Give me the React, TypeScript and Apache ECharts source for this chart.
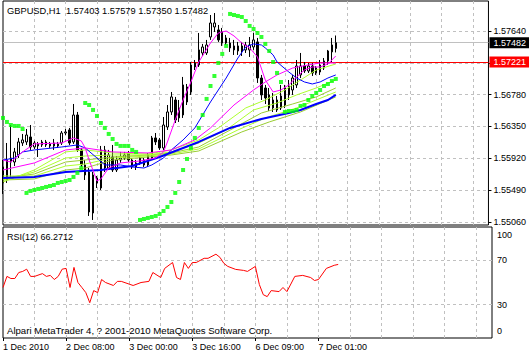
import React, { useEffect, useRef } from "react";
import * as echarts from "echarts";

const SYMBOL = "GBPUSD,H1";
const Y_MIN = 1.55019;
const Y_MAX = 1.58045;
const SLOTS = 125;
const RED_LINE = 1.57221;
const FONT = '"Liberation Sans", Arial, sans-serif';

const xLabels = ["1 Dec 2010", "2 Dec 08:00", "3 Dec 00:00", "3 Dec 16:00", "6 Dec 09:00", "7 Dec 01:00"];
const priceTicks = [1.5506, 1.5549, 1.5592, 1.5635, 1.5678, 1.5721, 1.5764];
const rsiTicks = [0, 30, 70, 100];
const rsiLevels = [30, 70];

const open = [
  1.55803, 1.55627, 1.55924, 1.5587, 1.55965, 1.56127, 1.56141, 1.56208, 1.56073, 1.56114,
  1.561, 1.56141, 1.56114, 1.56127, 1.56087, 1.56127, 1.56262, 1.56303, 1.56141, 1.56505,
  1.56033, 1.5583, 1.55735, 1.55181, 1.55654, 1.55519, 1.56033, 1.55789, 1.55938, 1.55762,
  1.55897, 1.55924, 1.55992, 1.55803, 1.55803, 1.55924, 1.55897, 1.5583, 1.55924, 1.56195,
  1.56168, 1.5606, 1.56343, 1.56546, 1.56708, 1.56465, 1.56505, 1.56884, 1.56816, 1.57208,
  1.57181, 1.57343, 1.57343, 1.57559, 1.57694, 1.57654, 1.57627, 1.57478, 1.57478, 1.57438,
  1.5737, 1.57438, 1.57384, 1.57384, 1.57424, 1.57492, 1.57005, 1.5687, 1.566, 1.566,
  1.56708, 1.566, 1.5664, 1.56776, 1.56843, 1.56911, 1.57046, 1.57167, 1.571, 1.57167,
  1.57073, 1.57086, 1.5714, 1.57235, 1.57357, 1.57403,
];
const close = [
  1.55587, 1.55897, 1.5587, 1.56006, 1.56141, 1.56168, 1.56235, 1.56073, 1.56127, 1.56087,
  1.56141, 1.561, 1.56087, 1.56087, 1.56114, 1.56262, 1.56276, 1.56127, 1.56505, 1.56033,
  1.5583, 1.55695, 1.55195, 1.55695, 1.55587, 1.56033, 1.55789, 1.55965, 1.55762, 1.55897,
  1.55924, 1.55965, 1.55897, 1.55897, 1.55857, 1.55857, 1.5583, 1.55965, 1.56195, 1.56141,
  1.5606, 1.5637, 1.56546, 1.56749, 1.56438, 1.566, 1.56911, 1.56681, 1.57181, 1.57154,
  1.57384, 1.57424, 1.57451, 1.57748, 1.57748, 1.57519, 1.57478, 1.57546, 1.57411, 1.57384,
  1.57438, 1.5737, 1.57451, 1.57451, 1.57519, 1.57005, 1.56776, 1.56735, 1.56776, 1.56708,
  1.56573, 1.56762, 1.5687, 1.56897, 1.57005, 1.57167, 1.57167, 1.571, 1.57167, 1.57073,
  1.5714, 1.57181, 1.57235, 1.5737, 1.57451, 1.57482,
];
const high = [
  1.55897, 1.56127, 1.5637, 1.5606, 1.56195, 1.56249, 1.56316, 1.5637, 1.56154, 1.56141,
  1.56168, 1.56168, 1.56141, 1.56181, 1.56141, 1.56289, 1.56316, 1.5633, 1.56654, 1.56546,
  1.5606, 1.55897, 1.55789, 1.55735, 1.55681, 1.56087, 1.56087, 1.56033, 1.561, 1.55951,
  1.56006, 1.56006, 1.56019, 1.55924, 1.55897, 1.55951, 1.55924, 1.55992, 1.56222, 1.56262,
  1.56195, 1.56478, 1.5664, 1.56816, 1.56749, 1.56708, 1.57019, 1.56924, 1.57221, 1.57248,
  1.57613, 1.57465, 1.57519, 1.57856, 1.57883, 1.57721, 1.57681, 1.57586, 1.57546, 1.57519,
  1.57492, 1.57492, 1.57492, 1.57559, 1.57613, 1.57546, 1.57046, 1.56911, 1.5687, 1.56803,
  1.56762, 1.56911, 1.56911, 1.56978, 1.57046, 1.57248, 1.57343, 1.57221, 1.57208, 1.57208,
  1.57167, 1.57248, 1.57275, 1.57384, 1.57546, 1.57579,
];
const low = [
  1.55438, 1.55587, 1.55654, 1.55816, 1.55924, 1.56087, 1.561, 1.56033, 1.56046, 1.55938,
  1.56073, 1.56073, 1.5606, 1.56033, 1.5606, 1.561, 1.56235, 1.561, 1.56114, 1.56006,
  1.55803, 1.55627, 1.55141, 1.55087, 1.55519, 1.55492, 1.55735, 1.55762, 1.55735, 1.55735,
  1.55857, 1.55897, 1.5587, 1.55776, 1.55762, 1.5583, 1.55803, 1.55803, 1.55897, 1.561,
  1.56033, 1.56033, 1.56303, 1.56505, 1.56397, 1.56411, 1.56465, 1.5664, 1.56776, 1.57113,
  1.57154, 1.57302, 1.57316, 1.57519, 1.57627, 1.57492, 1.57438, 1.57451, 1.57357, 1.57316,
  1.57316, 1.57302, 1.57343, 1.57289, 1.57384, 1.56938, 1.56708, 1.56654, 1.56559, 1.56546,
  1.56546, 1.56573, 1.566, 1.56708, 1.56776, 1.5687, 1.57005, 1.57073, 1.57073, 1.57032,
  1.57046, 1.57046, 1.57113, 1.57181, 1.57221, 1.5735,
];

// indicator lines: [bar index, price]
const maFastMagenta: [number, number][] = [
  [0, 1.55897], [2, 1.5587], [5, 1.56006], [8, 1.56114], [15, 1.56127], [18, 1.56195], [20, 1.56154],
  [21, 1.5606], [22, 1.55897], [24, 1.55614], [25, 1.55641], [27, 1.55789], [30, 1.55857], [35, 1.55884],
  [39, 1.55924], [41, 1.56006], [42, 1.56141], [44, 1.56438], [46, 1.56708], [48, 1.56951], [50, 1.57221],
  [53, 1.57478], [55, 1.57613], [57, 1.5764], [59, 1.57573], [61, 1.57478], [63, 1.57411], [65, 1.57289],
  [67, 1.56978], [69, 1.56816], [71, 1.56843], [73, 1.56911], [75, 1.57019], [77, 1.57113], [79, 1.57154],
  [81, 1.57154], [83, 1.57194], [85, 1.57302],
];
const maSlowMagenta: [number, number][] = [
  [0, 1.55762], [8, 1.55857], [16, 1.56033], [21, 1.5606], [28, 1.56006], [37, 1.55992], [43, 1.56033],
  [49, 1.56168], [53, 1.5633], [59, 1.5664], [64, 1.56843], [67, 1.56951], [70, 1.57046], [74, 1.5714],
  [78, 1.57181], [81, 1.57208], [85, 1.57208],
];
const maFastBlue: [number, number][] = [
  [0, 1.55897], [3, 1.55924], [5, 1.56006], [8, 1.56033], [15, 1.56073], [19, 1.561], [21, 1.5606],
  [24, 1.55924], [26, 1.5583], [30, 1.5583], [33, 1.55803], [36, 1.55789], [38, 1.5583], [41, 1.55924],
  [43, 1.56033], [46, 1.56168], [49, 1.5633], [53, 1.56681], [57, 1.57005], [60, 1.57275], [62, 1.57424],
  [64, 1.57465], [66, 1.57451], [67, 1.57411], [69, 1.57316], [70, 1.57221], [73, 1.57086], [75, 1.57005],
  [77, 1.56951], [79, 1.56924], [81, 1.56951], [83, 1.57005], [85, 1.57046],
];
const maSlowBlue: [number, number][] = [
  [0, 1.55654], [8, 1.55668], [16, 1.55735], [25, 1.55762], [33, 1.55816], [40, 1.55938], [50, 1.56141],
  [58, 1.5633], [66, 1.56451], [73, 1.56532], [76, 1.56573], [80, 1.56654], [83, 1.56708], [85, 1.56776],
];
const ribbon1: [number, number][] = [
  [0, 1.556], [8, 1.55762], [16, 1.56006], [21, 1.56033], [28, 1.55992], [37, 1.55978], [43, 1.56033],
  [50, 1.56168], [55, 1.5633], [62, 1.566], [67, 1.56708], [72, 1.56843], [76, 1.56978], [80, 1.57113], [85, 1.57194],
];
const ribbon2: [number, number][] = [
  [0, 1.55627], [8, 1.55735], [16, 1.55924], [21, 1.55951], [28, 1.55965], [37, 1.55965], [43, 1.56006],
  [50, 1.56127], [57, 1.56303], [64, 1.56573], [70, 1.56667], [75, 1.56776], [80, 1.5687], [85, 1.56978],
];
const ribbon3: [number, number][] = [
  [0, 1.55654], [8, 1.55708], [16, 1.5587], [21, 1.55897], [28, 1.55938], [37, 1.55965], [43, 1.55992],
  [50, 1.56073], [59, 1.5633], [66, 1.56532], [74, 1.56654], [80, 1.56749], [85, 1.5687],
];
const ribbon4: [number, number][] = [
  [0, 1.55681], [8, 1.55681], [16, 1.55816], [21, 1.55843], [28, 1.55924], [37, 1.55951], [43, 1.55978],
  [50, 1.56046], [60, 1.56303], [67, 1.56465], [75, 1.566], [85, 1.56816],
];
const ribbon5: [number, number][] = [
  [0, 1.55627], [8, 1.55641], [16, 1.55762], [21, 1.55789], [28, 1.55897], [37, 1.55938], [43, 1.55965],
  [50, 1.56019], [61, 1.56276], [68, 1.56411], [76, 1.56546], [85, 1.56749],
];

const sar: [number, number][] = [
  [0, 1.56465], [1, 1.56411], [2, 1.5637], [3, 1.56357], [4, 1.56357], [5, 1.56316],
  [6, 1.55452], [7, 1.55479], [8, 1.55492], [9, 1.55506], [10, 1.55519], [11, 1.55533], [12, 1.55546],
  [13, 1.55559], [14, 1.55587], [15, 1.556], [16, 1.55614], [17, 1.55627], [18, 1.55668], [19, 1.55722], [20, 1.55789],
  [21, 1.56667], [22, 1.5664], [23, 1.56573], [24, 1.56492], [25, 1.56397], [26, 1.5633], [27, 1.56249],
  [28, 1.56181], [29, 1.56114], [30, 1.56087], [31, 1.56087], [32, 1.56087], [33, 1.56033], [34, 1.56006],
  [35, 1.55087], [36, 1.551], [37, 1.55114], [38, 1.55127], [39, 1.55141], [40, 1.55168], [41, 1.55208],
  [42, 1.55262], [43, 1.5533], [44, 1.55452], [45, 1.556], [46, 1.55762], [47, 1.55911], [48, 1.5606],
  [49, 1.56195], [50, 1.5633], [51, 1.56505], [52, 1.56722], [53, 1.56897], [54, 1.57032], [55, 1.57208],
  [56, 1.5733], [57, 1.57438],
  [58, 1.5787], [59, 1.57856], [60, 1.57843], [61, 1.57829], [62, 1.57775], [63, 1.57708], [64, 1.57667],
  [65, 1.57613], [66, 1.57559], [67, 1.57465], [68, 1.5737], [69, 1.57221], [70, 1.57073], [71, 1.56951],
  [72, 1.56546], [73, 1.56559], [74, 1.56559], [75, 1.56573], [76, 1.56627], [77, 1.5664], [78, 1.56708],
  [79, 1.56762], [80, 1.56803], [81, 1.56843], [82, 1.56897], [83, 1.56924], [84, 1.56965], [85, 1.56992],
];

const rsi: [number, number][] = [
  [0, 45.5], [1, 55.5], [2, 53.6], [3, 53.6], [4, 59], [5, 60], [6, 62], [7, 55.5], [8, 55.5], [10, 58],
  [11, 55.5], [12, 56.4], [13, 52.7], [14, 55.5], [15, 62], [16, 62.7], [17, 45.5], [18, 63.6], [19, 50],
  [20, 45.5], [21, 40.9], [22, 31.8], [23, 42.7], [24, 40.9], [25, 52.7], [26, 50], [28, 47.3], [29, 51],
  [30, 51], [33, 47.3], [35, 50], [37, 51], [38, 59], [40, 54.5], [41, 62.7], [43, 68], [44, 54.5],
  [45, 52.7], [46, 68], [47, 62.7], [48, 68], [49, 68], [51, 71.8], [52, 71.8], [54, 75.5], [55, 72.7],
  [56, 67.3], [57, 64.5], [59, 61.8], [61, 60.9], [62, 60], [64, 64.5], [65, 48.2], [66, 39], [67, 37.3],
  [68, 42.7], [70, 41.8], [71, 45.5], [72, 41.8], [74, 55.5], [76, 56.4], [78, 54.5], [79, 51.8], [80, 52.7],
  [82, 62.7], [84, 65.5], [85, 66.2712],
];

const categories = Array.from({ length: SLOTS }, (_, i) => String(i));

const gridLine = { color: "#C0C0C0", type: [3, 3] as any, width: 1 };
const labelFont = { fontSize: 9, fontFamily: FONT, color: "#000" };

function lineSeries(pts: [number, number][], color: string, width = 1, extra: any = {}) {
  return {
    type: "line",
    xAxisIndex: 0,
    yAxisIndex: 0,
    data: pts,
    symbol: "none",
    showSymbol: false,
    lineStyle: { color, width },
    itemStyle: { color },
    silent: true,
    z: 3,
    ...extra,
  };
}

function priceLabel(value: number, bg: string, lineColor: string) {
  return {
    yAxis: value,
    lineStyle: { color: lineColor, type: "solid", width: 1 },
    label: {
      show: true, position: "end", distance: 1, formatter: value.toFixed(5),
      backgroundColor: bg, color: "#ffffff", fontSize: 9, fontFamily: FONT, padding: [1, 4, 1, 4],
    },
  };
}

function buildOption(): any {
  const last = open.length - 1;
  const candles = open.map((o, i) => [o, close[i], low[i], high[i]]);
  const gridInterval = (i: number) => i > 0 && i % 8 === 0;
  const labelInterval = (i: number) => i % 16 === 0 && i / 16 < xLabels.length;
  const shownPriceLabels = priceTicks.filter((v) => Math.abs(v - RED_LINE) > 0.0003);
  return {
    animation: false,
    backgroundColor: "#ffffff",
    textStyle: { fontFamily: FONT },
    grid: [
      { left: 3, top: 1, width: 489, height: 224, show: true, borderColor: "#000", borderWidth: 1, backgroundColor: "#fff" },
      { left: 3, top: 227, width: 489, height: 111, show: true, borderColor: "#000", borderWidth: 1, backgroundColor: "#fff" },
    ],
    xAxis: [
      {
        type: "category", gridIndex: 0, data: categories, boundaryGap: false,
        axisLine: { show: false }, axisTick: { show: false }, axisLabel: { show: false },
        splitLine: { show: true, interval: gridInterval, lineStyle: gridLine },
      },
      {
        type: "category", gridIndex: 1, data: categories, boundaryGap: false,
        axisLine: { show: false },
        axisTick: { show: true, interval: labelInterval, length: 3, lineStyle: { color: "#000" } },
        axisLabel: {
          show: true, interval: labelInterval, align: "left", margin: 4, ...labelFont,
          formatter: (_v: string, i: number) => (i % 16 === 0 && xLabels[i / 16]) || "",
          hideOverlap: false,
        },
        splitLine: { show: true, interval: gridInterval, lineStyle: gridLine },
      },
    ],
    yAxis: [
      {
        type: "value", gridIndex: 0, position: "right",
        min: Y_MIN, max: Y_MAX,
        axisLine: { show: false },
        axisTick: { show: true, length: 3, lineStyle: { color: "#000" }, customValues: priceTicks },
        axisLabel: {
          show: true, margin: 5, ...labelFont,
          customValues: shownPriceLabels,
          formatter: (v: number) => v.toFixed(5),
        },
        splitLine: { show: false },
      },
      {
        type: "value", gridIndex: 1, position: "right",
        min: 0, max: 100, interval: 10,
        axisLine: { show: false },
        axisTick: { show: false },
        axisLabel: {
          show: true, margin: 5, ...labelFont,
          formatter: (v: number) => {
            if (!rsiTicks.includes(v)) return "";
            if (v === 100) return "{t|" + v + "}";
            if (v === 0) return "{b|" + v + "}";
            return String(v);
          },
          rich: {
            t: { ...labelFont, padding: [16, 0, 0, 0] },
            b: { ...labelFont, padding: [0, 0, 14, 0] },
          },
        },
        splitLine: { show: false },
      },
    ],
    series: [
      lineSeries(ribbon5, "#9ACD32", 1, {
        markLine: {
          silent: true, symbol: ["none", "none"], z: 1, animation: false, precision: 5,
          label: { show: false },
          lineStyle: gridLine,
          data: priceTicks.map((v) => ({ yAxis: v })),
        },
      }),
      {
        type: "candlestick",
        xAxisIndex: 0, yAxisIndex: 0,
        data: candles,
        barWidth: 2,
        itemStyle: { color: "#ffffff", color0: "#000000", borderColor: "#000000", borderColor0: "#000000", borderWidth: 1 },
        silent: true,
        z: 2,
      },
      lineSeries(ribbon4, "#ADFF2F"),
      lineSeries(ribbon3, "#9ACD32"),
      lineSeries(ribbon2, "#ADFF2F"),
      lineSeries(ribbon1, "#ADFF2F"),
      lineSeries(maSlowBlue, "#0000FF", 2, {
        markLine: {
          silent: true, symbol: ["none", "none"], z: 2, animation: false, precision: 5,
          data: [priceLabel(close[last], "#000000", "#C0C0C0"), priceLabel(RED_LINE, "#FF0000", "#FF0000")],
        },
      }),
      lineSeries(maFastBlue, "#0000FF", 1),
      lineSeries(maSlowMagenta, "#FF00FF", 1),
      lineSeries(maFastMagenta, "#FF00FF", 1),
      {
        type: "scatter",
        xAxisIndex: 0, yAxisIndex: 0,
        data: sar,
        symbol: "rect",
        symbolSize: 4,
        itemStyle: { color: "#00FF00" },
        silent: true,
        z: 4,
      },
      {
        type: "line",
        xAxisIndex: 1, yAxisIndex: 1,
        data: rsi,
        symbol: "none",
        showSymbol: false,
        lineStyle: { color: "#FF0000", width: 1 },
        itemStyle: { color: "#FF0000" },
        silent: true,
        z: 3,
        markLine: {
          silent: true,
          symbol: ["none", "none"],
          label: { show: false },
          lineStyle: gridLine,
          precision: 5,
          data: rsiLevels.map((v) => ({ yAxis: v })),
          z: 1,
        },
      },
    ],
    graphic: [
      {
        type: "text", x: 7, y: 11, z: 10,
        style: {
          text: `${SYMBOL}  ${open[last].toFixed(5)} ${high[last].toFixed(5)} ${low[last].toFixed(5)} ${close[last].toFixed(5)}`,
          fill: "#000", font: `9.3px ${FONT}`, verticalAlign: "middle",
        },
      },
      {
        type: "text", x: 7, y: 237, z: 10,
        style: { text: `RSI(12) ${rsi[rsi.length - 1][1].toFixed(4)}`, fill: "#000", font: `9px ${FONT}`, verticalAlign: "middle" },
      },
      {
        type: "text", x: 7, y: 330, z: 10,
        style: { text: "Alpari MetaTrader 4, ? 2001-2010 MetaQuotes Software Corp.", fill: "#000", font: `9.6px ${FONT}`, verticalAlign: "middle" },
      },
    ],
  };
}

export default function App() {
  const ref = useRef<HTMLDivElement>(null);
  useEffect(() => {
    if (!ref.current) return;
    const chart = echarts.init(ref.current, null, { renderer: "svg" });
    chart.setOption(buildOption());
    return () => chart.dispose();
  }, []);
  return (
    <div
      ref={ref}
      style={{ position: "fixed", left: 0, top: 0, width: 529, height: 355, background: "#fff" }}
    />
  );
}
